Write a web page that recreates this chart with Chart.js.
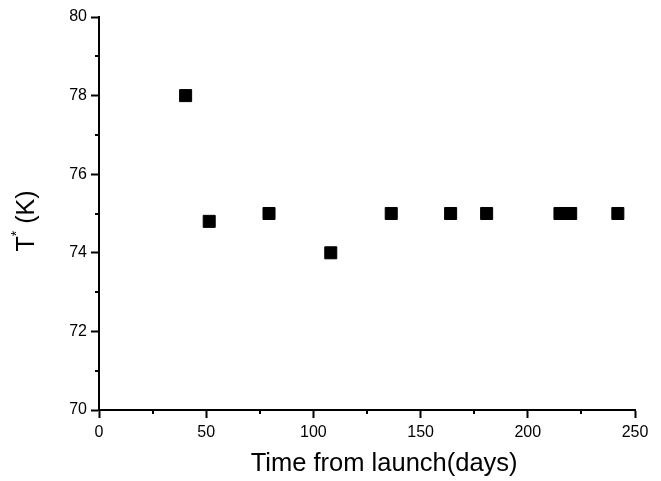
<!DOCTYPE html>
<html>
<head>
<meta charset="utf-8">
<script src="https://cdn.jsdelivr.net/npm/chart.js@4/dist/chart.umd.min.js"></script>
<style>
  html, body { margin: 0; padding: 0; background: #fff; }
  #wrap { width: 661px; height: 481px; position: relative; }
</style>
</head>
<body>
<div id="wrap"><canvas id="c" width="661" height="481"></canvas></div>
<script>
// ---- data ----
const days = [40.4, 51.4, 79.3, 108.1, 136.3, 164.0, 180.8, 215.0, 220.0, 242.0];
const temps = [78.0, 74.8, 75.0, 74.0, 75.0, 75.0, 75.0, 75.0, 75.0, 75.0];
const xMajorTicks = [0, 50, 100, 150, 200, 250];
const xMinorTicks = [25, 75, 125, 175, 225];
const yMajorTicks = [70, 72, 74, 76, 78, 80];
const yMinorTicks = [71, 73, 75, 77, 79];
const xTitle = 'Time from launch(days)';
const yTitleMain = 'T';
const yTitleSup = '*';
const yTitleRest = ' (K)';

const FONT = '"Liberation Sans", Arial, Helvetica, sans-serif';

const points = days.map((d, i) => ({ x: d, y: temps[i] }));

const customAxes = {
  id: 'customAxes',
  afterDraw(chart) {
    const ctx = chart.ctx;
    const xs = chart.scales.x, ys = chart.scales.y;
    const area = chart.chartArea;
    ctx.save();
    ctx.strokeStyle = '#000';
    ctx.lineWidth = 2;
    // minor ticks
    ctx.beginPath();
    yMinorTicks.forEach(v => {
      const py = Math.round(ys.getPixelForValue(v));
      ctx.moveTo(area.left - 4, py);
      ctx.lineTo(area.left, py);
    });
    xMinorTicks.forEach(v => {
      const px = Math.round(xs.getPixelForValue(v));
      ctx.moveTo(px, area.bottom);
      ctx.lineTo(px, area.bottom + 4);
    });
    ctx.stroke();
    // axis titles
    ctx.fillStyle = '#000';
    ctx.font = '25.5px ' + FONT;
    ctx.textAlign = 'center';
    ctx.textBaseline = 'middle';
    ctx.fillText(xTitle, xs.getPixelForValue(133), 464);
    // y title rotated
    ctx.translate(27, 221);
    ctx.rotate(-Math.PI / 2);
    ctx.font = '25px ' + FONT;
    const wMain = ctx.measureText(yTitleMain).width;
    ctx.font = '14px ' + FONT;
    const wSup = ctx.measureText(yTitleSup).width;
    ctx.font = '25px ' + FONT;
    const wRest = ctx.measureText(yTitleRest).width;
    const total = wMain + wSup + wRest;
    let x0 = -total / 2;
    ctx.textAlign = 'left';
    ctx.textBaseline = 'middle';
    ctx.fillText(yTitleMain, x0, 0);
    ctx.font = '14px ' + FONT;
    ctx.fillText(yTitleSup, x0 + wMain, -10);
    ctx.font = '25px ' + FONT;
    ctx.fillText(yTitleRest, x0 + wMain + wSup, 0);
    ctx.restore();
  }
};

new Chart(document.getElementById('c'), {
  type: 'scatter',
  data: {
    datasets: [{
      data: points,
      pointStyle: 'rect',
      pointRadius: 8.5,
      pointBackgroundColor: '#000',
      pointBorderColor: '#000',
      pointBorderWidth: 1,
      showLine: false
    }]
  },
  options: {
    responsive: false,
    animation: false,
    devicePixelRatio: 1,
    layout: { padding: { top: 17, right: 26, left: 0, bottom: 0 } },
    plugins: { legend: { display: false }, tooltip: { enabled: false } },
    scales: {
      x: {
        type: 'linear',
        min: 0, max: 250,
        afterBuildTicks(scale) { scale.ticks = xMajorTicks.map(v => ({ value: v })); },
        afterFit(scale) { scale.height = 71; },
        ticks: {
          color: '#000',
          font: { family: FONT, size: 16 },
          padding: 5,
          maxRotation: 0,
          callback: v => String(v)
        },
        grid: {
          drawOnChartArea: false,
          drawTicks: true,
          tickLength: 8,
          tickWidth: 2,
          tickColor: '#000'
        },
        border: { display: true, color: '#000', width: 2 }
      },
      y: {
        type: 'linear',
        min: 70, max: 80,
        afterBuildTicks(scale) { scale.ticks = yMajorTicks.map(v => ({ value: v })); },
        afterFit(scale) { scale.width = 99; },
        ticks: {
          color: '#000',
          font: { family: FONT, size: 16 },
          padding: 4,
          callback: v => String(v)
        },
        grid: {
          drawOnChartArea: false,
          drawTicks: true,
          tickLength: 8,
          tickWidth: 2,
          tickColor: '#000'
        },
        border: { display: true, color: '#000', width: 2 }
      }
    }
  },
  plugins: [customAxes]
});
</script>
</body>
</html>
